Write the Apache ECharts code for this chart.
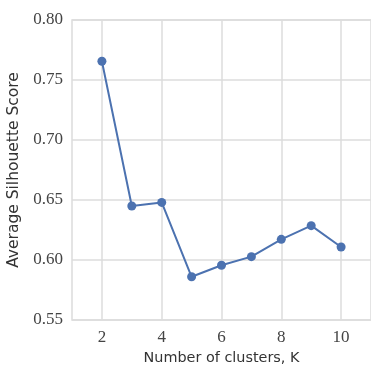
<!DOCTYPE html>
<html>
<head>
<meta charset="utf-8">
<script src="https://cdn.jsdelivr.net/npm/echarts@6/dist/echarts.min.js"></script>
<style>
html, body { margin: 0; padding: 0; background: #fff; }
#chart { width: 371px; height: 366px; }
</style>
</head>
<body>
<div id="chart"></div>
<script>
// silhouette score per K
const clusters = [2, 3, 4, 5, 6, 7, 8, 9, 10]
const scores = [0.7656, 0.645, 0.648, 0.586, 0.5956, 0.6028, 0.6172, 0.6286, 0.6108]
const xTicks = [2, 4, 6, 8, 10]

const chart = echarts.init(document.getElementById('chart'))
const gridColor = '#dcdcdc'
const tickFont = 'Liberation Serif, DejaVu Serif, serif'
const nameFont = 'DejaVu Sans, sans-serif'

chart.setOption({
	animation: false,
	grid: {
		left: 72,
		right: 0,
		top: 20,
		bottom: 46,
		outerBoundsMode: 'none',
		show: true,
		borderColor: gridColor,
		borderWidth: 1.5
	},
	xAxis: {
		type: 'value',
		min: 1,
		max: 11,
		name: 'Number of clusters, K',
		nameLocation: 'middle',
		nameGap: 30,
		nameTextStyle: { fontFamily: nameFont, fontSize: 14.4, color: '#333' },
		axisLine: { show: false },
		axisTick: { show: false, customValues: xTicks },
		axisLabel: {
			customValues: xTicks,
			fontFamily: tickFont,
			fontSize: 17,
			color: '#444',
			margin: 9
		},
		splitLine: { show: true, lineStyle: { color: gridColor, width: 1.5 } }
	},
	yAxis: {
		type: 'value',
		min: 0.55,
		max: 0.80,
		interval: 0.05,
		name: 'Average Silhouette Score',
		nameLocation: 'middle',
		nameGap: 43,
		nameTextStyle: { fontFamily: nameFont, fontSize: 15.5, color: '#333' },
		axisLine: { show: false },
		axisTick: { show: false },
		axisLabel: {
			formatter: (v) => v.toFixed(2),
			fontFamily: tickFont,
			fontSize: 17,
			color: '#444',
			margin: 9
		},
		splitLine: { show: true, lineStyle: { color: gridColor, width: 1.5 } }
	},
	series: [ {
		type: 'line',
		data: clusters.map((k, i) => [k, scores[i]]),
		symbol: 'circle',
		symbolSize: 9,
		lineStyle: { color: '#4c72b0', width: 2 },
		itemStyle: { color: '#4c72b0' }
	} ]
})
</script>
</body>
</html>
